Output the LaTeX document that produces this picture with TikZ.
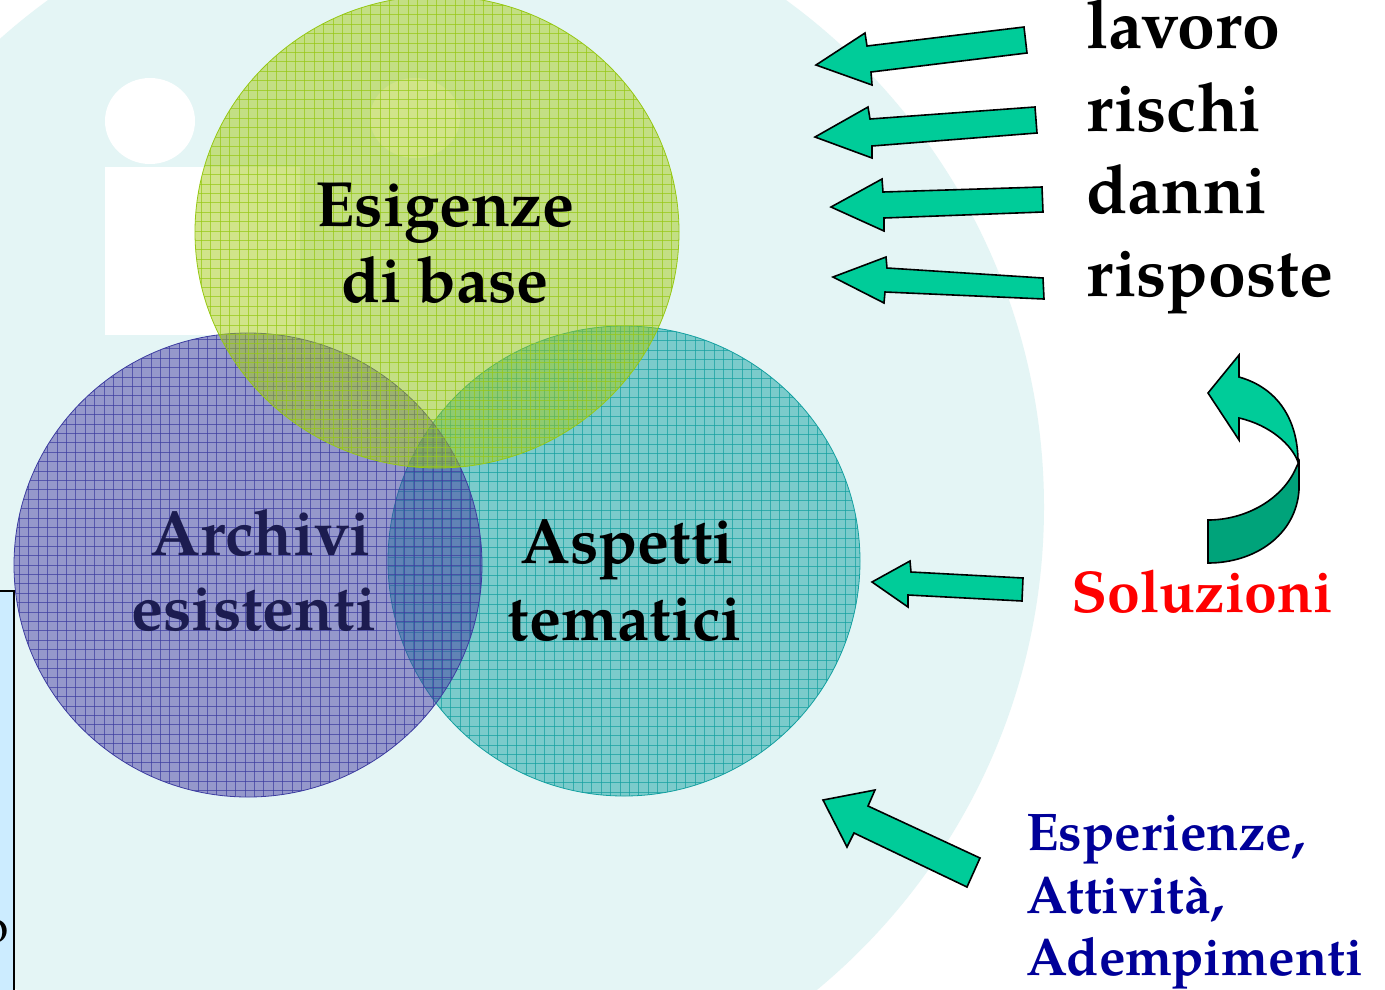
\documentclass[tikz,border=0pt]{standalone}
\usepackage{fontspec}
\setmainfont{TeX Gyre Pagella}
\definecolor{bgcyan}{RGB}{228,245,245}
\definecolor{boxblue}{RGB}{204,236,255}
\definecolor{greenfill}{RGB}{164,203,20}
\definecolor{greenline}{RGB}{150,200,20}
\definecolor{purplefill}{RGB}{72,60,163}
\definecolor{purpleline}{RGB}{60,60,160}
\definecolor{tealfill}{RGB}{20,163,163}
\definecolor{tealline}{RGB}{20,160,160}
\definecolor{arrowgreen}{RGB}{0,204,153}
\definecolor{arrowdark}{RGB}{0,163,122}
\definecolor{navytext}{RGB}{28,28,80}
\definecolor{bluetext}{RGB}{0,0,153}
\begin{document}
\begin{tikzpicture}[x=1pt,y=-1pt,
    bigtext/.style={font=\fontsize{68}{80}\selectfont\bfseries,inner sep=0pt},
    circtext/.style={font=\fontsize{64}{76}\selectfont\bfseries,inner sep=0pt},
    smalltext/.style={font=\fontsize{53}{62}\selectfont\bfseries,inner sep=0pt,text=bluetext},
    gridline/.style={opacity=0.7,line width=0.7pt},
    blockarrow/.style={fill=arrowgreen,draw=black,line width=1.6pt,line join=miter}]
  \useasboundingbox (0,0) rectangle (1385,989);
  \fill[white] (0,0) rectangle (1385,989);
  % watermark
  \begin{scope}
    \clip (0,0) rectangle (1385,989);
    \fill[bgcyan] (417,507) circle (627);
    \fill[white] (150,121) ellipse [x radius=45,y radius=43];
    \fill[white] (105,167) rectangle (300,335);
    \fill[white] (415,118) ellipse [x radius=45,y radius=40];
  \end{scope}
  % left box
  \draw[fill=boxblue,line width=1.6pt] (-20,591) rectangle (14,1010);
  \node[font=\fontsize{48}{56}\selectfont,anchor=base east,inner sep=0pt] (cut) at (9,942) {o};
  % circles
  \fill[tealfill,opacity=0.5] (624,561) ellipse [x radius=236,y radius=235];
  \begin{scope}
    \clip (624,561) ellipse [x radius=236,y radius=235];
    \foreach \k in {0,...,52} {
      \draw[tealline,gridline] (385+9.4*\k,320) -- (385+9.4*\k,800);
      \draw[tealline,gridline] (385,322+9.4*\k) -- (865,322+9.4*\k);
    }
  \end{scope}
  \draw[tealline,line width=0.8pt] (624,561) ellipse [x radius=236,y radius=235];
  \fill[purplefill,opacity=0.5] (248,565) ellipse [x radius=234,y radius=232];
  \begin{scope}
    \clip (248,565) ellipse [x radius=234,y radius=232];
    \foreach \k in {0,...,52} {
      \draw[purpleline,gridline] (10+9.4*\k,330) -- (10+9.4*\k,800);
      \draw[purpleline,gridline] (10,330+9.4*\k) -- (490,330+9.4*\k);
    }
  \end{scope}
  \draw[purpleline,line width=0.8pt] (248,565) ellipse [x radius=234,y radius=232];
  \fill[greenfill,opacity=0.5] (437,232) ellipse [x radius=242,y radius=236];
  \begin{scope}
    \clip (437,232) ellipse [x radius=242,y radius=236];
    \foreach \k in {0,...,53} {
      \draw[greenline,gridline] (192+9.4*\k,-5) -- (192+9.4*\k,470);
      \draw[greenline,gridline] (192,-4+9.4*\k) -- (682,-4+9.4*\k);
    }
  \end{scope}
  \draw[greenline,line width=0.8pt] (437,232) ellipse [x radius=242,y radius=236];
  % circle labels
  \node[circtext,anchor=base] (esig) at (445,226) {Esigenze};
  \node[circtext,anchor=base] (base) at (445,302) {di base};
  \node[circtext,anchor=base,text=navytext] (arch) at (261,555) {Archivi};
  \node[circtext,anchor=base,text=navytext] (esist) at (254,630) {esistenti};
  \node[circtext,anchor=base] (asp) at (627,563) {Aspetti};
  \node[circtext,anchor=base] (tem) at (625,640) {tematici};
  % right labels
  \node[bigtext,anchor=base west] (lavoro) at (1086,48) {lavoro};
  \node[bigtext,anchor=base west] (rischi) at (1086,131) {rischi};
  \node[bigtext,anchor=base west] (danni) at (1086,213) {danni};
  \node[bigtext,anchor=base west] (risposte) at (1086,296) {risposte};
  \node[bigtext,font=\fontsize{59}{70}\selectfont\bfseries,anchor=base west,text=red] (soluz) at (1071,612) {Soluzioni};
  \node[smalltext,anchor=base west] (esper) at (1026,850) {Esperienze,};
  \node[smalltext,anchor=base west] (attiv) at (1026,913) {Attività,};
  \node[smalltext,anchor=base west] (ademp) at (1026,975) {Adempimenti};
  % arrows
  \draw[blockarrow] (816,65) -- (865,33) -- (867,46) -- (1024,27) -- (1027,53)
    -- (871,72) -- (872,85) -- cycle;
  \draw[blockarrow] (815,137) -- (868,107) -- (870,119) -- (1035,107) -- (1037,133)
    -- (872,146) -- (872,158) -- cycle;
  \draw[blockarrow] (831,207) -- (882,179) -- (883,192) -- (1042,187) -- (1043,212)
    -- (884,218) -- (884,231) -- cycle;
  \draw[blockarrow] (833,277) -- (886,257) -- (887,268) -- (1043,278) -- (1044,299)
    -- (885,292) -- (884,303) -- cycle;
  \draw[blockarrow] (872,582) -- (910,561) -- (911,572) -- (1023,578) -- (1022,601)
    -- (908,595) -- (908,607) -- cycle;
  \draw[blockarrow] (823,800) -- (875,790) -- (868,806) -- (980,858) -- (967,887)
    -- (854,833) -- (847,847) -- cycle;
  % curved arrow
  \draw[blockarrow,fill=arrowdark] (1208,520) .. controls (1245,520) and (1282,500) .. (1296,468)
    -- (1299,462) -- (1299,490) .. controls (1296,535) and (1255,563) .. (1208,563) -- cycle;
  \draw[blockarrow] (1208,393) -- (1239,355) -- (1239,377)
    .. controls (1278,388) and (1298,420) .. (1298,462)
    .. controls (1292,445) and (1270,425) .. (1239,418) -- (1239,440) -- cycle;
\end{tikzpicture}
\end{document}
